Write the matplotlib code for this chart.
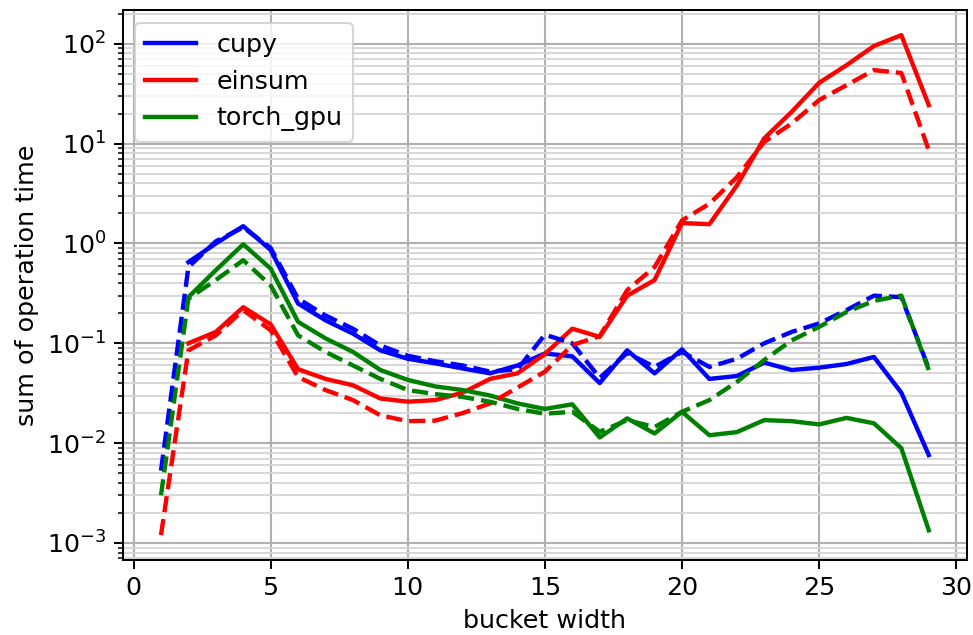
import matplotlib
matplotlib.use("Agg")
import matplotlib.pyplot as plt

# bucket widths: dashed runs start at 1, solid runs at 2
widths_dashed = list(range(1, 30))
widths_solid = list(range(2, 30))

cupy_solid = [0.65, 1.0, 1.49, 0.86, 0.25, 0.17, 0.125, 0.085, 0.07, 0.063, 0.056, 0.05,
              0.06, 0.079, 0.074, 0.04, 0.085, 0.05, 0.087, 0.044, 0.047, 0.064, 0.054,
              0.057, 0.062, 0.073, 0.032, 0.0076]
cupy_dashed = [0.0053, 0.58, 1.05, 1.45, 0.9, 0.28, 0.19, 0.14, 0.095, 0.075, 0.066, 0.06,
               0.052, 0.055, 0.122, 0.1, 0.045, 0.08, 0.058, 0.082, 0.058, 0.07, 0.1, 0.13,
               0.158, 0.215, 0.30, 0.29, 0.056]

einsum_solid = [0.1, 0.13, 0.23, 0.155, 0.055, 0.044, 0.038, 0.028, 0.026, 0.027, 0.032,
                0.044, 0.05, 0.078, 0.14, 0.116, 0.30, 0.43, 1.6, 1.56, 3.8, 11.3, 20.8,
                40.6, 61.0, 95.0, 122.0, 24.3]
einsum_dashed = [0.0012, 0.085, 0.12, 0.215, 0.135, 0.046, 0.034, 0.027, 0.019, 0.0166,
                 0.0168, 0.020, 0.025, 0.036, 0.052, 0.096, 0.118, 0.34, 0.58, 1.7, 2.5,
                 4.6, 10.4, 15.9, 27.3, 38.5, 54.5, 51.0, 8.6]

torch_solid = [0.29, 0.54, 0.98, 0.56, 0.164, 0.112, 0.082, 0.054, 0.043, 0.037, 0.034,
               0.030, 0.025, 0.022, 0.0245, 0.0114, 0.0177, 0.0125, 0.0206, 0.012, 0.0129,
               0.017, 0.0166, 0.0154, 0.0179, 0.0158, 0.0089, 0.00134]
torch_dashed = [0.003, 0.28, 0.43, 0.68, 0.38, 0.12, 0.082, 0.06, 0.044, 0.034, 0.031,
                0.029, 0.026, 0.022, 0.0197, 0.0206, 0.013, 0.017, 0.0145, 0.0206, 0.027,
                0.041, 0.068, 0.107, 0.146, 0.206, 0.266, 0.30, 0.054]

series = [
    ("cupy", "b", cupy_solid, cupy_dashed),
    ("einsum", "r", einsum_solid, einsum_dashed),
    ("torch_gpu", "g", torch_solid, torch_dashed),
]

scale = 1.22
plt.rcParams.update({
    "font.size": 10 * scale,
    "xtick.major.size": 3.5 * scale,
    "ytick.major.size": 3.5 * scale,
    "xtick.minor.size": 2 * scale,
    "ytick.minor.size": 2 * scale,
    "xtick.major.width": 0.8 * scale,
    "ytick.major.width": 0.8 * scale,
    "ytick.minor.width": 0.6 * scale,
    "axes.linewidth": 0.8 * scale,
})

fig = plt.figure(figsize=(973 / 150, 635 / 150), dpi=150)
ax = fig.add_axes([0.126, 0.118, 0.868, 0.866])

for name, color, solid, dashed in series:
    ax.plot(widths_solid, solid, color=color, lw=2.1, label=name)
for name, color, solid, dashed in series:
    ax.plot(widths_dashed, dashed, color=color, lw=2.1, ls="--")

ax.set_yscale("log")
ax.grid(True, which="major", color="#b0b0b0", lw=1.0)
ax.grid(True, which="minor", color="#d6d6d6", lw=0.9)
ax.set_xlabel("bucket width")
ax.set_ylabel("sum of operation time")
ax.legend(loc="upper left")

fig.savefig("out.png", dpi=150)
